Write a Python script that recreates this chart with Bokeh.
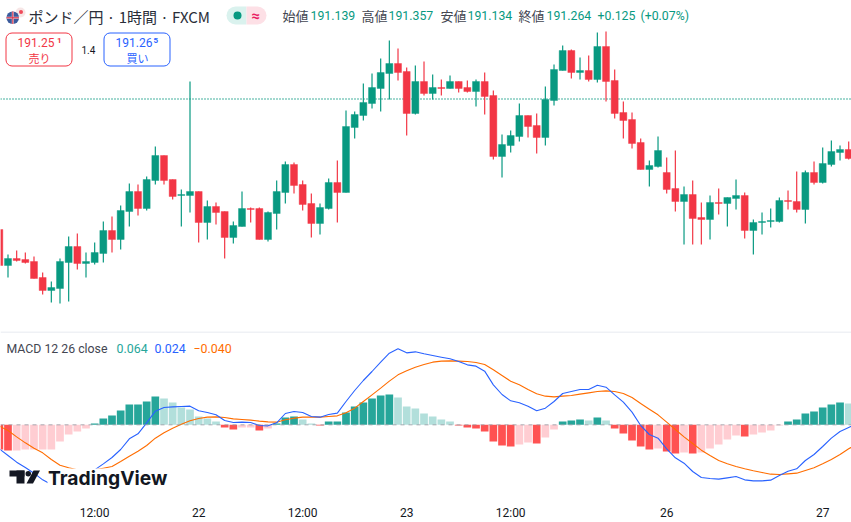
from bokeh.plotting import figure
from bokeh.layouts import column
from bokeh.models import ColumnDataSource, Label, BoxAnnotation, PolyAnnotation, Span, FixedTicker
from bokeh.embed import file_html
from bokeh.resources import INLINE

# ---- price data ----
open_ = [189.96,189.60,189.67,189.66,189.64,189.48,189.35,189.37,189.63,189.79,
         189.62,189.63,189.72,189.95,189.86,190.14,190.34,190.17,190.45,190.70,
         190.46,190.30,190.30,190.34,190.03,190.19,190.14,189.88,189.99,190.17,
         190.17,189.86,190.12,190.33,190.61,190.41,190.22,190.02,190.17,190.43,
         190.33,190.98,191.10,191.22,191.37,191.52,191.62,191.54,191.12,191.44,
         191.32,191.38,191.37,191.44,191.38,191.34,191.44,191.30,190.69,190.80,
         190.89,191.10,191.00,190.88,191.25,191.55,191.75,191.53,191.55,191.46,
         191.79,191.45,191.13,191.06,190.83,190.56,190.59,190.53,190.37,190.24,
         190.31,190.08,190.06,190.23,190.22,190.27,190.30,189.95,190.03,190.04,
         190.04,190.25,190.24,190.16,190.53,190.43,190.61,190.73,190.76]
high = [189.96,189.71,189.75,189.73,189.69,189.53,189.44,189.67,189.89,189.92,
        189.73,189.83,190.04,190.09,190.20,190.42,190.41,190.49,190.79,190.70,
        190.46,190.36,191.44,190.34,190.25,190.23,190.14,190.04,190.34,190.18,
        190.18,190.14,190.45,190.64,190.63,190.45,190.32,190.22,190.47,190.65,
        191.15,191.14,191.42,191.52,191.67,191.85,191.77,191.58,191.60,191.64,
        191.51,191.46,191.50,191.44,191.45,191.46,191.53,191.35,190.91,190.95,
        191.22,191.10,191.12,191.39,191.61,191.80,191.76,191.68,191.70,191.93,
        191.94,191.56,191.24,191.13,190.87,190.65,190.89,190.68,190.75,190.39,
        190.45,190.23,190.30,190.37,190.28,190.46,190.33,190.06,190.13,190.17,
        190.28,190.35,190.54,190.55,190.64,190.78,190.85,190.80,190.84]
low = [189.60,189.48,189.64,189.62,189.47,189.31,189.23,189.22,189.24,189.56,
       189.48,189.61,189.63,189.73,189.76,189.99,190.10,190.15,190.41,190.41,
       190.26,189.99,190.13,189.83,189.86,190.01,189.67,189.82,189.99,190.03,
       189.86,189.84,189.96,190.22,190.32,190.15,189.88,189.91,190.16,190.03,
       190.33,190.87,191.05,191.17,191.14,191.26,191.45,190.90,191.11,191.30,
       191.26,191.30,191.37,191.33,191.33,191.19,191.11,190.66,190.48,190.73,
       190.84,190.88,190.72,190.80,191.20,191.55,191.47,191.46,191.44,191.43,
       191.24,191.07,190.87,190.77,190.56,190.39,190.58,190.32,190.14,189.81,
       189.81,189.81,189.86,190.11,189.99,190.16,189.87,189.71,189.91,189.98,
       190.03,190.16,190.13,190.02,190.41,190.42,190.59,190.65,190.66]
close = [189.60,189.67,189.65,189.63,189.47,189.35,189.38,189.64,189.79,189.62,
         189.64,189.73,189.95,189.86,190.15,190.34,190.17,190.46,190.70,190.45,
         190.29,190.31,190.34,190.03,190.19,190.13,189.88,190.00,190.17,190.16,
         189.86,190.13,190.34,190.61,190.40,190.21,190.02,190.18,190.43,190.33,
         190.99,191.11,191.23,191.38,191.53,191.62,191.53,191.12,191.44,191.32,
         191.38,191.37,191.44,191.37,191.34,191.44,191.29,190.69,190.81,190.90,
         191.10,190.99,190.88,191.26,191.56,191.75,191.53,191.55,191.46,191.79,
         191.44,191.12,191.05,190.82,190.56,190.60,190.75,190.36,190.24,190.31,
         190.07,190.06,190.23,190.22,190.28,190.30,189.95,190.03,190.04,190.05,
         190.25,190.24,190.16,190.53,190.43,190.62,190.74,190.76,190.67]
last_close = 191.265

# ---- MACD data ----
hist = [-0.074,-0.077,-0.077,-0.074,-0.074,-0.074,-0.074,-0.050,-0.029,-0.020,
        -0.011,0.004,0.019,0.028,0.043,0.061,0.061,0.070,0.085,0.079,
        0.067,0.052,0.046,0.025,0.019,0.010,-0.008,-0.014,-0.008,-0.008,
        -0.017,-0.011,0.004,0.022,0.025,0.016,0.004,-0.002,0.010,0.010,
        0.037,0.055,0.067,0.079,0.088,0.091,0.082,0.055,0.049,0.034,
        0.025,0.016,0.010,-0.002,-0.008,-0.011,-0.020,-0.050,-0.062,-0.065,
        -0.059,-0.053,-0.056,-0.038,-0.014,0.010,0.013,0.016,0.013,0.022,
        0.013,-0.011,-0.026,-0.047,-0.065,-0.074,-0.071,-0.080,-0.086,-0.083,
        -0.086,-0.083,-0.071,-0.059,-0.044,-0.032,-0.035,-0.029,-0.023,-0.017,
        -0.002,0.010,0.016,0.034,0.040,0.052,0.061,0.067,0.064]
macd = [-0.072,-0.092,-0.112,-0.128,-0.145,-0.165,-0.179,-0.190,-0.194,-0.182,
        -0.157,-0.135,-0.117,-0.098,-0.074,-0.042,-0.027,0.006,0.041,0.052,
        0.054,0.055,0.056,0.042,0.037,0.030,0.013,0.007,0.008,0.007,
        -0.002,-0.003,0.006,0.034,0.040,0.037,0.025,0.023,0.031,0.035,
        0.070,0.103,0.133,0.160,0.188,0.215,0.228,0.216,0.219,0.213,
        0.208,0.203,0.198,0.190,0.180,0.176,0.161,0.120,0.091,0.072,
        0.066,0.056,0.042,0.050,0.070,0.094,0.100,0.106,0.106,0.119,
        0.113,0.090,0.068,0.038,-0.002,-0.029,-0.040,-0.072,-0.099,-0.115,
        -0.140,-0.158,-0.161,-0.163,-0.159,-0.155,-0.165,-0.168,-0.168,-0.166,
        -0.152,-0.139,-0.132,-0.107,-0.089,-0.065,-0.040,-0.020,-0.008,0.004]
signal = [-0.004,-0.017,-0.036,-0.054,-0.070,-0.084,-0.104,-0.121,-0.129,-0.135,
          -0.137,-0.135,-0.130,-0.125,-0.110,-0.094,-0.079,-0.062,-0.040,-0.024,
          -0.010,0.002,0.012,0.019,0.023,0.024,0.022,0.018,0.016,0.014,
          0.011,0.009,0.008,0.015,0.020,0.023,0.023,0.023,0.025,0.027,
          0.036,0.050,0.070,0.090,0.110,0.131,0.150,0.162,0.173,0.181,
          0.188,0.191,0.192,0.191,0.190,0.187,0.181,0.165,0.148,0.131,
          0.120,0.106,0.093,0.086,0.084,0.086,0.088,0.092,0.096,0.100,
          0.102,0.100,0.094,0.082,0.064,0.047,0.030,0.008,-0.014,-0.036,
          -0.056,-0.076,-0.092,-0.107,-0.117,-0.125,-0.132,-0.138,-0.143,-0.148,
          -0.149,-0.147,-0.145,-0.137,-0.129,-0.117,-0.104,-0.089,-0.072,-0.057]

tick_positions = [11, 23, 35, 47, 59, 77, 95]
tick_labels = ["12:00", "22", "12:00", "23", "12:00", "26", "27"]

GREEN, RED, BLUE, ORANGE = "#089981", "#f23645", "#2962ff", "#ff6d00"
INK = "#131722"
SANS, CJK = "Roboto", "Noto Sans CJK JP"

# ---- layout geometry ----
W, H1, H2 = 851, 331, 191
STEP, X0 = 8.667, -1.17
def dx(px): return (px - X0) / STEP
def dy1(py): return 192.25 - py / 100
def dy2(py): return 0.280 - (py - 331) * 0.003

x_range = (dx(0), dx(W))

p1 = figure(width=W, height=H1, x_range=x_range, y_range=(dy1(H1), dy1(0)),
            x_axis_location=None, y_axis_location=None, toolbar_location=None,
            output_backend="svg", min_border=0, outline_line_color=None,
            background_fill_color="white", border_fill_color="white")
p1.grid.visible = False

p2 = figure(width=W, height=H2, x_range=x_range, y_range=(dy2(495), dy2(331)),
            y_axis_location=None, toolbar_location=None, output_backend="svg",
            min_border=0, min_border_bottom=27, outline_line_color=None,
            background_fill_color="white", border_fill_color="white")
p2.grid.visible = False

def label(p, dyf, px, py, text, size=13, color=INK, font=SANS, style="normal", align="left"):
    p.add_layout(Label(x=dx(px), y=dyf(py), text=text, text_font_size=f"{size}px", text_color=color,
                       text_font=font, text_font_style=style, text_align=align, text_baseline="middle"))

def box(p, dyf, l, r, t, b, fill, line=None, radius=0, lw=1):
    p.add_layout(BoxAnnotation(left=dx(l), right=dx(r), top=dyf(t), bottom=dyf(b),
                               fill_color=fill, fill_alpha=1,
                               line_color=line, line_alpha=1 if line else 0, line_width=lw,
                               border_radius=radius, level="annotation"))

# ---- candles ----
n = len(close)
idx = list(range(n))
colors = [GREEN if c >= o else RED for o, c in zip(open_, close)]
src = ColumnDataSource(dict(x=idx, o=open_, h=high, l=low, c=close, col=colors,
                            t=[max(a, b) for a, b in zip(open_, close)],
                            b=[min(a, b) for a, b in zip(open_, close)]))
p1.add_layout(Span(location=last_close, dimension="width", line_color=GREEN, line_width=1.4,
                   line_dash="1 2", level="underlay"))
p1.segment("x", "h", "x", "l", source=src, color="col", line_width=1.2)
p1.vbar("x", width=7 / STEP, top="t", bottom="b", source=src, fill_color="col", line_color="col", line_width=0.4)

# ---- header ----
# flag
box(p1, dy1, 15, 25, 7, 17, "#f7e6e6", radius=5)
box(p1, dy1, 18.5, 22.5, 9.5, 13.5, "#ef4a5a", radius=2)
box(p1, dy1, 6, 18.5, 11, 23.5, "#3b5b9c", radius=6)
box(p1, dy1, 11.3, 13.2, 11, 23.5, "#f4c9cf")
box(p1, dy1, 6.1, 18.4, 16.3, 18.2, "#f4c9cf")
box(p1, dy1, 11.8, 12.7, 11, 23.5, "#d9324a")
box(p1, dy1, 6.1, 18.4, 16.8, 17.7, "#d9324a")

label(p1, dy1, 28, 15.5, "ポンド／円 · 1時間 · FXCM", size=15, font=CJK, color="#2a2e39")

box(p1, dy1, 226, 246, 6, 24, "#daf2ee", radius=(9, 0, 0, 9))
box(p1, dy1, 246, 266, 6, 24, "#fde0e6", radius=(0, 9, 9, 0))
box(p1, dy1, 233, 241, 11, 19, GREEN, radius=4)
label(p1, dy1, 255, 15, "≈", size=15, color="#e91e63", style="bold", align="center")

ohlc = [(282, "始値", 310, "191.139"), (361, "高値", 388, "191.357"),
        (440, "安値", 467, "191.134"), (518, "終値", 546, "191.264")]
for lx_, name, vx, val in ohlc:
    label(p1, dy1, lx_, 15, name, size=13, font=CJK, color="#434651")
    label(p1, dy1, vx, 15, val, size=12.3, color=GREEN)
label(p1, dy1, 597, 15, "+0.125", size=12.3, color=GREEN)
label(p1, dy1, 640, 15, "(+0.07%)", size=12.3, color=GREEN)

# bid / ask
box(p1, dy1, 5.5, 71.5, 32.5, 65.5, "white", line=RED, radius=6)
label(p1, dy1, 17, 42, "191.25", size=12, color=RED)
label(p1, dy1, 56.5, 40, "1", size=8, color=RED, style="bold")
label(p1, dy1, 28, 57, "売り", size=11, font=CJK, color=RED)
label(p1, dy1, 81, 49.5, "1.4", size=10, color=INK)
box(p1, dy1, 103.5, 169.5, 32.5, 65.5, "white", line=BLUE, radius=6)
label(p1, dy1, 115, 42, "191.26", size=12, color=BLUE)
label(p1, dy1, 153, 40, "5", size=8, color=BLUE, style="bold")
label(p1, dy1, 126, 57, "買い", size=11, font=CJK, color=BLUE)

# ---- MACD ----
hcol = []
for i, v in enumerate(hist):
    prev = hist[i - 1] if i else v + 0.001
    if v >= 0:
        hcol.append("#26a69a" if v >= prev else "#b2dfdb")
    else:
        hcol.append("#ffcdd2" if v >= prev else "#ff5252")
p2.vbar(idx, width=7.7 / STEP, top=hist, bottom=0, fill_color=hcol, line_color=None)
p2.add_layout(Span(location=0, dimension="width", line_color="#9598a1", line_alpha=0.8, line_width=1, line_dash="4 4"))
lx = list(range(len(macd)))
p2.line(lx, signal, line_color=ORANGE, line_width=1.1)
p2.line(lx, macd, line_color=BLUE, line_width=1.1)
p2.add_layout(Span(location=dy2(331.5), dimension="width", line_color="#e0e3eb", line_width=1))

label(p2, dy2, 6, 348, "MACD 12 26 close", size=12.3, color="#434651")
label(p2, dy2, 116, 348, "0.064", size=12.4, color="#26a69a")
label(p2, dy2, 154, 348, "0.024", size=12.4, color=BLUE)
label(p2, dy2, 193, 348, "−0.040", size=12.4, color=ORANGE)

# logo
box(p2, dy2, 47, 168, 468, 490, "white")
box(p2, dy2, 9, 24, 470, 476, INK)
box(p2, dy2, 16, 24, 470, 483, INK)
box(p2, dy2, 25, 30.5, 470.5, 476, INK, radius=3)
p2.add_layout(PolyAnnotation(xs=[dx(33), dx(39.5), dx(32.5), dx(26)], ys=[dy2(470), dy2(470), dy2(483), dy2(483)],
                             fill_color=INK, fill_alpha=1, line_color=None))
label(p2, dy2, 47.5, 477.5, "TradingView", size=19.3, font="Inter", style="bold", color=INK)

# x axis
ax = p2.xaxis[0]
ax.ticker = FixedTicker(ticks=tick_positions)
ax.major_label_overrides = dict(zip(tick_positions, tick_labels))
ax.axis_line_color = None
ax.major_tick_line_color = None
ax.minor_tick_line_color = None
ax.major_tick_out = 0
ax.major_tick_in = 0
ax.major_label_text_font = SANS
ax.major_label_text_font_size = "12px"
ax.major_label_text_color = INK
ax.major_label_standoff = 10

page = column(p1, p2, spacing=0)
open("out.html", "w").write(file_html(page, INLINE))
